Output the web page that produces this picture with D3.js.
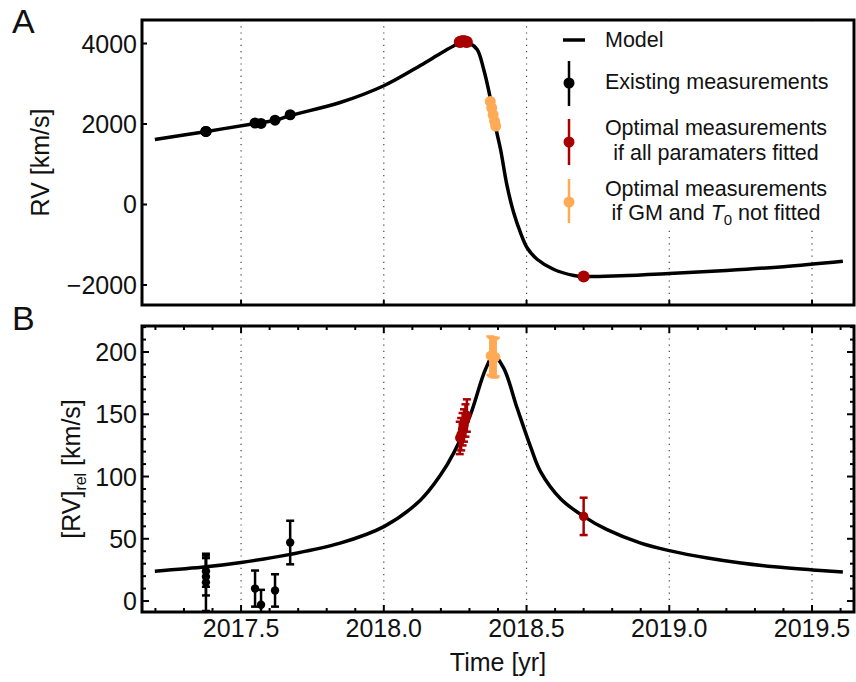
<!DOCTYPE html>
<html><head><meta charset="utf-8">
<script src="https://cdn.jsdelivr.net/npm/d3@7"></script>
<style>
body{margin:0;background:#fff}
text{font-family:"Liberation Sans",Arial,Helvetica,sans-serif;fill:#111}
</style>
</head><body>
<svg id="chart" width="856" height="682"></svg>
<script>
// ---- model curves (time in yr) ----
const modelTimeA = [2017.198, 2017.38, 2017.55, 2017.62, 2017.672, 2017.847, 2018.002, 2018.128, 2018.198, 2018.244, 2018.275, 2018.300, 2018.327, 2018.350, 2018.374, 2018.391, 2018.409, 2018.432, 2018.455, 2018.479, 2018.502, 2018.538, 2018.596, 2018.666, 2018.700, 2018.83, 2019.0, 2019.2, 2019.4, 2019.608];
const modelRV = [1615, 1815, 2015, 2095, 2210, 2534, 2957, 3453, 3752, 3938, 4050, 4010, 3851, 3354, 2609, 1946, 1366, 455, -207, -704, -1076, -1366, -1615, -1764, -1790, -1770, -1715, -1640, -1545, -1410];

const modelTimeB = [2017.198, 2017.377, 2017.5, 2017.672, 2017.847, 2018.002, 2018.128, 2018.198, 2018.245, 2018.304, 2018.356, 2018.385, 2018.420, 2018.467, 2018.514, 2018.549, 2018.62, 2018.70, 2018.78, 2018.90, 2019.0, 2019.134, 2019.251, 2019.368, 2019.502, 2019.608];
const modelRel = [24, 27.5, 31, 37.5, 46.5, 60, 81, 101, 119, 150, 186, 197, 187, 155, 124, 104, 82, 68, 57.5, 46.5, 40.5, 34.5, 30.5, 27.5, 25, 23.3];

// ---- existing measurements ----
const existTime = [2017.377, 2017.377, 2017.377, 2017.549, 2017.570, 2017.619, 2017.672];
const existRV   = [1815, 1815, 1815, 2025, 2015, 2095, 2230];
const existRel  = [24, 19.5, 15, 10, -3, 8.5, 47];
const existErr  = [12.5, 15, 23, 14.5, 12, 13, 17.5];

// ---- optimal measurements, all parameters fitted ----
const optTime = [2018.266, 2018.271, 2018.276, 2018.281, 2018.286, 2018.291, 2018.700];
const optRV   = [4040, 4050, 4055, 4055, 4050, 4040, -1790];
const optRel  = [131, 134, 138, 141, 145, 149, 68];
const optErr  = [13, 13, 13, 13, 13, 13, 15];

// ---- optimal measurements, GM and T0 not fitted ----
const fixTime = [2018.373, 2018.378, 2018.383, 2018.388, 2018.392];
const fixRV   = [2560, 2400, 2230, 2070, 1950];
const fixRel  = [197, 196, 196, 195, 196];
const fixErr  = [15.5, 15.5, 15.5, 15.5, 15.5];

// ---- ticks ----
const xTicks = [2017.5, 2018.0, 2018.5, 2019.0, 2019.5];
const yTicksA = [-2000, 0, 2000, 4000];
const yTicksB = [0, 50, 100, 150, 200];

const RED = "#a80000", ORANGE = "#ffaa55", BLACK = "#000";

const svg = d3.select("#chart");
const L = 142, R = 854;
const x = d3.scaleLinear().domain([2017.153, 2019.647]).range([L, R]);
const yA = d3.scaleLinear().domain([-2497, 4584]).range([305, 20]);
const yB = d3.scaleLinear().domain([-8.8, 220.9]).range([612, 326]);

const defs = svg.append("defs");
defs.append("clipPath").attr("id", "clipA").append("rect")
  .attr("x", L).attr("y", 20).attr("width", R - L).attr("height", 285);
defs.append("clipPath").attr("id", "clipB").append("rect")
  .attr("x", L).attr("y", 326).attr("width", R - L).attr("height", 286);

function grid(y0, y1) {
  svg.append("g").selectAll("line").data(xTicks).join("line")
    .attr("x1", d => x(d)).attr("x2", d => x(d))
    .attr("y1", y0).attr("y2", y1)
    .attr("stroke", "#444").attr("stroke-width", 1.2)
    .attr("stroke-dasharray", "1.2,5");
}
grid(20, 305);
grid(326, 612);

// ---------- Panel A ----------
const gA = svg.append("g").attr("clip-path", "url(#clipA)");
const lineA = d3.line().x((d, i) => x(modelTimeA[i])).y(d => yA(d)).curve(d3.curveCatmullRom.alpha(0.5));
gA.append("path").attr("d", lineA(modelRV))
  .attr("fill", "none").attr("stroke", BLACK).attr("stroke-width", 3.5);

function dotsA(times, vals, color, r) {
  gA.append("g").selectAll("circle").data(vals).join("circle")
    .attr("cx", (d, i) => x(times[i])).attr("cy", d => yA(d))
    .attr("r", r).attr("fill", color);
}
dotsA(existTime, existRV, BLACK, 5.5);
dotsA(optTime, optRV, RED, 6);
dotsA(fixTime, fixRV, ORANGE, 5.5);

// legend box (white background hides the grid behind it)
const lg = svg.append("g");
lg.append("rect").attr("x", 540).attr("y", 25).attr("width", 310).attr("height", 203).attr("fill", "#fff");
lg.append("line").attr("x1", 563).attr("x2", 585).attr("y1", 40).attr("y2", 40)
  .attr("stroke", BLACK).attr("stroke-width", 3.5);
const legendItems = [
  {c: BLACK, y0: 61, y1: 106, yc: 83},
  {c: RED, y0: 119, y1: 165, yc: 142},
  {c: ORANGE, y0: 179, y1: 223, yc: 202}
];
legendItems.forEach(it => {
  lg.append("line").attr("x1", 569).attr("x2", 569).attr("y1", it.y0).attr("y2", it.y1)
    .attr("stroke", it.c).attr("stroke-width", 2.5);
  lg.append("circle").attr("cx", 569).attr("cy", it.yc).attr("r", 5.5).attr("fill", it.c);
});
const fs = 21.5;
lg.append("text").attr("x", 605).attr("y", 47).attr("font-size", fs).text("Model");
lg.append("text").attr("x", 605).attr("y", 89).attr("font-size", fs).text("Existing measurements");
lg.append("text").attr("x", 716).attr("y", 135).attr("font-size", fs).attr("text-anchor", "middle").text("Optimal measurements");
lg.append("text").attr("x", 716).attr("y", 160).attr("font-size", fs).attr("text-anchor", "middle").text("if all paramaters fitted");
lg.append("text").attr("x", 716).attr("y", 196).attr("font-size", fs).attr("text-anchor", "middle").text("Optimal measurements");
const t5 = lg.append("text").attr("x", 716).attr("y", 220).attr("font-size", fs).attr("text-anchor", "middle");
t5.append("tspan").text("if GM and ");
t5.append("tspan").attr("font-style", "italic").text("T");
t5.append("tspan").attr("font-size", 15).attr("dy", 5).text("0");
t5.append("tspan").attr("dy", -5).text(" not fitted");

// frame A
svg.append("rect").attr("x", L).attr("y", 20).attr("width", R - L).attr("height", 285)
  .attr("fill", "none").attr("stroke", BLACK).attr("stroke-width", 3);
// ticks A
svg.append("g").selectAll("line").data(yTicksA).join("line")
  .attr("x1", L).attr("x2", L + 5).attr("y1", d => yA(d)).attr("y2", d => yA(d))
  .attr("stroke", BLACK).attr("stroke-width", 2);
svg.append("g").selectAll("line").data(xTicks).join("line")
  .attr("x1", d => x(d)).attr("x2", d => x(d)).attr("y1", 305).attr("y2", 300)
  .attr("stroke", BLACK).attr("stroke-width", 2);
svg.append("g").selectAll("text").data(yTicksA).join("text")
  .attr("x", 137).attr("y", d => yA(d) + 9).attr("text-anchor", "end").attr("font-size", 25)
  .text(d => d < 0 ? "\u2212" + Math.abs(d) : d);
svg.append("text").attr("transform", "translate(49,162.5) rotate(-90)")
  .attr("text-anchor", "middle").attr("font-size", 25).text("RV [km/s]");
svg.append("text").attr("x", 12).attr("y", 33).attr("font-size", 34).text("A");

// ---------- Panel B ----------
const gB = svg.append("g").attr("clip-path", "url(#clipB)");
const lineB = d3.line().x((d, i) => x(modelTimeB[i])).y(d => yB(d)).curve(d3.curveCatmullRom.alpha(0.5));
gB.append("path").attr("d", lineB(modelRel))
  .attr("fill", "none").attr("stroke", BLACK).attr("stroke-width", 3.5);

function errB(times, vals, errs, color, r) {
  const g = gB.append("g").attr("stroke", color).attr("stroke-width", 2.5);
  vals.forEach((v, i) => {
    const cx = x(times[i]);
    g.append("line").attr("x1", cx).attr("x2", cx).attr("y1", yB(v - errs[i])).attr("y2", yB(v + errs[i]));
    g.append("line").attr("x1", cx - 4).attr("x2", cx + 4).attr("y1", yB(v - errs[i])).attr("y2", yB(v - errs[i]));
    g.append("line").attr("x1", cx - 4).attr("x2", cx + 4).attr("y1", yB(v + errs[i])).attr("y2", yB(v + errs[i]));
  });
  gB.append("g").selectAll("circle").data(vals).join("circle")
    .attr("cx", (d, i) => x(times[i])).attr("cy", d => yB(d)).attr("r", r).attr("fill", color);
}
errB(existTime, existRel, existErr, BLACK, 4.2);
errB(optTime, optRel, optErr, RED, 4.7);
errB(fixTime, fixRel, fixErr, ORANGE, 4.7);

// frame B
svg.append("rect").attr("x", L).attr("y", 326).attr("width", R - L).attr("height", 286)
  .attr("fill", "none").attr("stroke", BLACK).attr("stroke-width", 3);
// minor + major ticks on all sides
const xMinor = d3.range(2017.2, 2019.65, 0.1).map(d => +d.toFixed(1));
const yMinor = d3.range(0, 221, 10);
const tickG = svg.append("g").attr("stroke", BLACK).attr("stroke-width", 2);
xMinor.forEach(t => {
  const major = xTicks.some(m => Math.abs(m - t) < 1e-6);
  const len = major ? 7 : 4;
  tickG.append("line").attr("x1", x(t)).attr("x2", x(t)).attr("y1", 612).attr("y2", 612 - len);
  tickG.append("line").attr("x1", x(t)).attr("x2", x(t)).attr("y1", 326).attr("y2", 326 + len);
});
yMinor.forEach(v => {
  const len = (v % 50 === 0) ? 7 : 4;
  tickG.append("line").attr("x1", L).attr("x2", L + len).attr("y1", yB(v)).attr("y2", yB(v));
  tickG.append("line").attr("x1", R).attr("x2", R - len).attr("y1", yB(v)).attr("y2", yB(v));
});
svg.append("g").selectAll("text").data(yTicksB).join("text")
  .attr("x", 137).attr("y", d => yB(d) + 9).attr("text-anchor", "end").attr("font-size", 25)
  .text(d => d);
svg.append("g").selectAll("text").data(xTicks).join("text")
  .attr("x", d => x(d)).attr("y", 637).attr("text-anchor", "middle").attr("font-size", 25)
  .text(d => d.toFixed(1));
const yl = svg.append("text").attr("transform", "translate(80,469) rotate(-90)")
  .attr("text-anchor", "middle").attr("font-size", 25);
yl.append("tspan").text("[RV]");
yl.append("tspan").attr("font-size", 16).attr("dy", 6).text("rel");
yl.append("tspan").attr("dy", -6).text(" [km/s]");
svg.append("text").attr("x", 498).attr("y", 671).attr("text-anchor", "middle").attr("font-size", 25).text("Time [yr]");
svg.append("text").attr("x", 12).attr("y", 330).attr("font-size", 34).text("B");
</script>
</body></html>
